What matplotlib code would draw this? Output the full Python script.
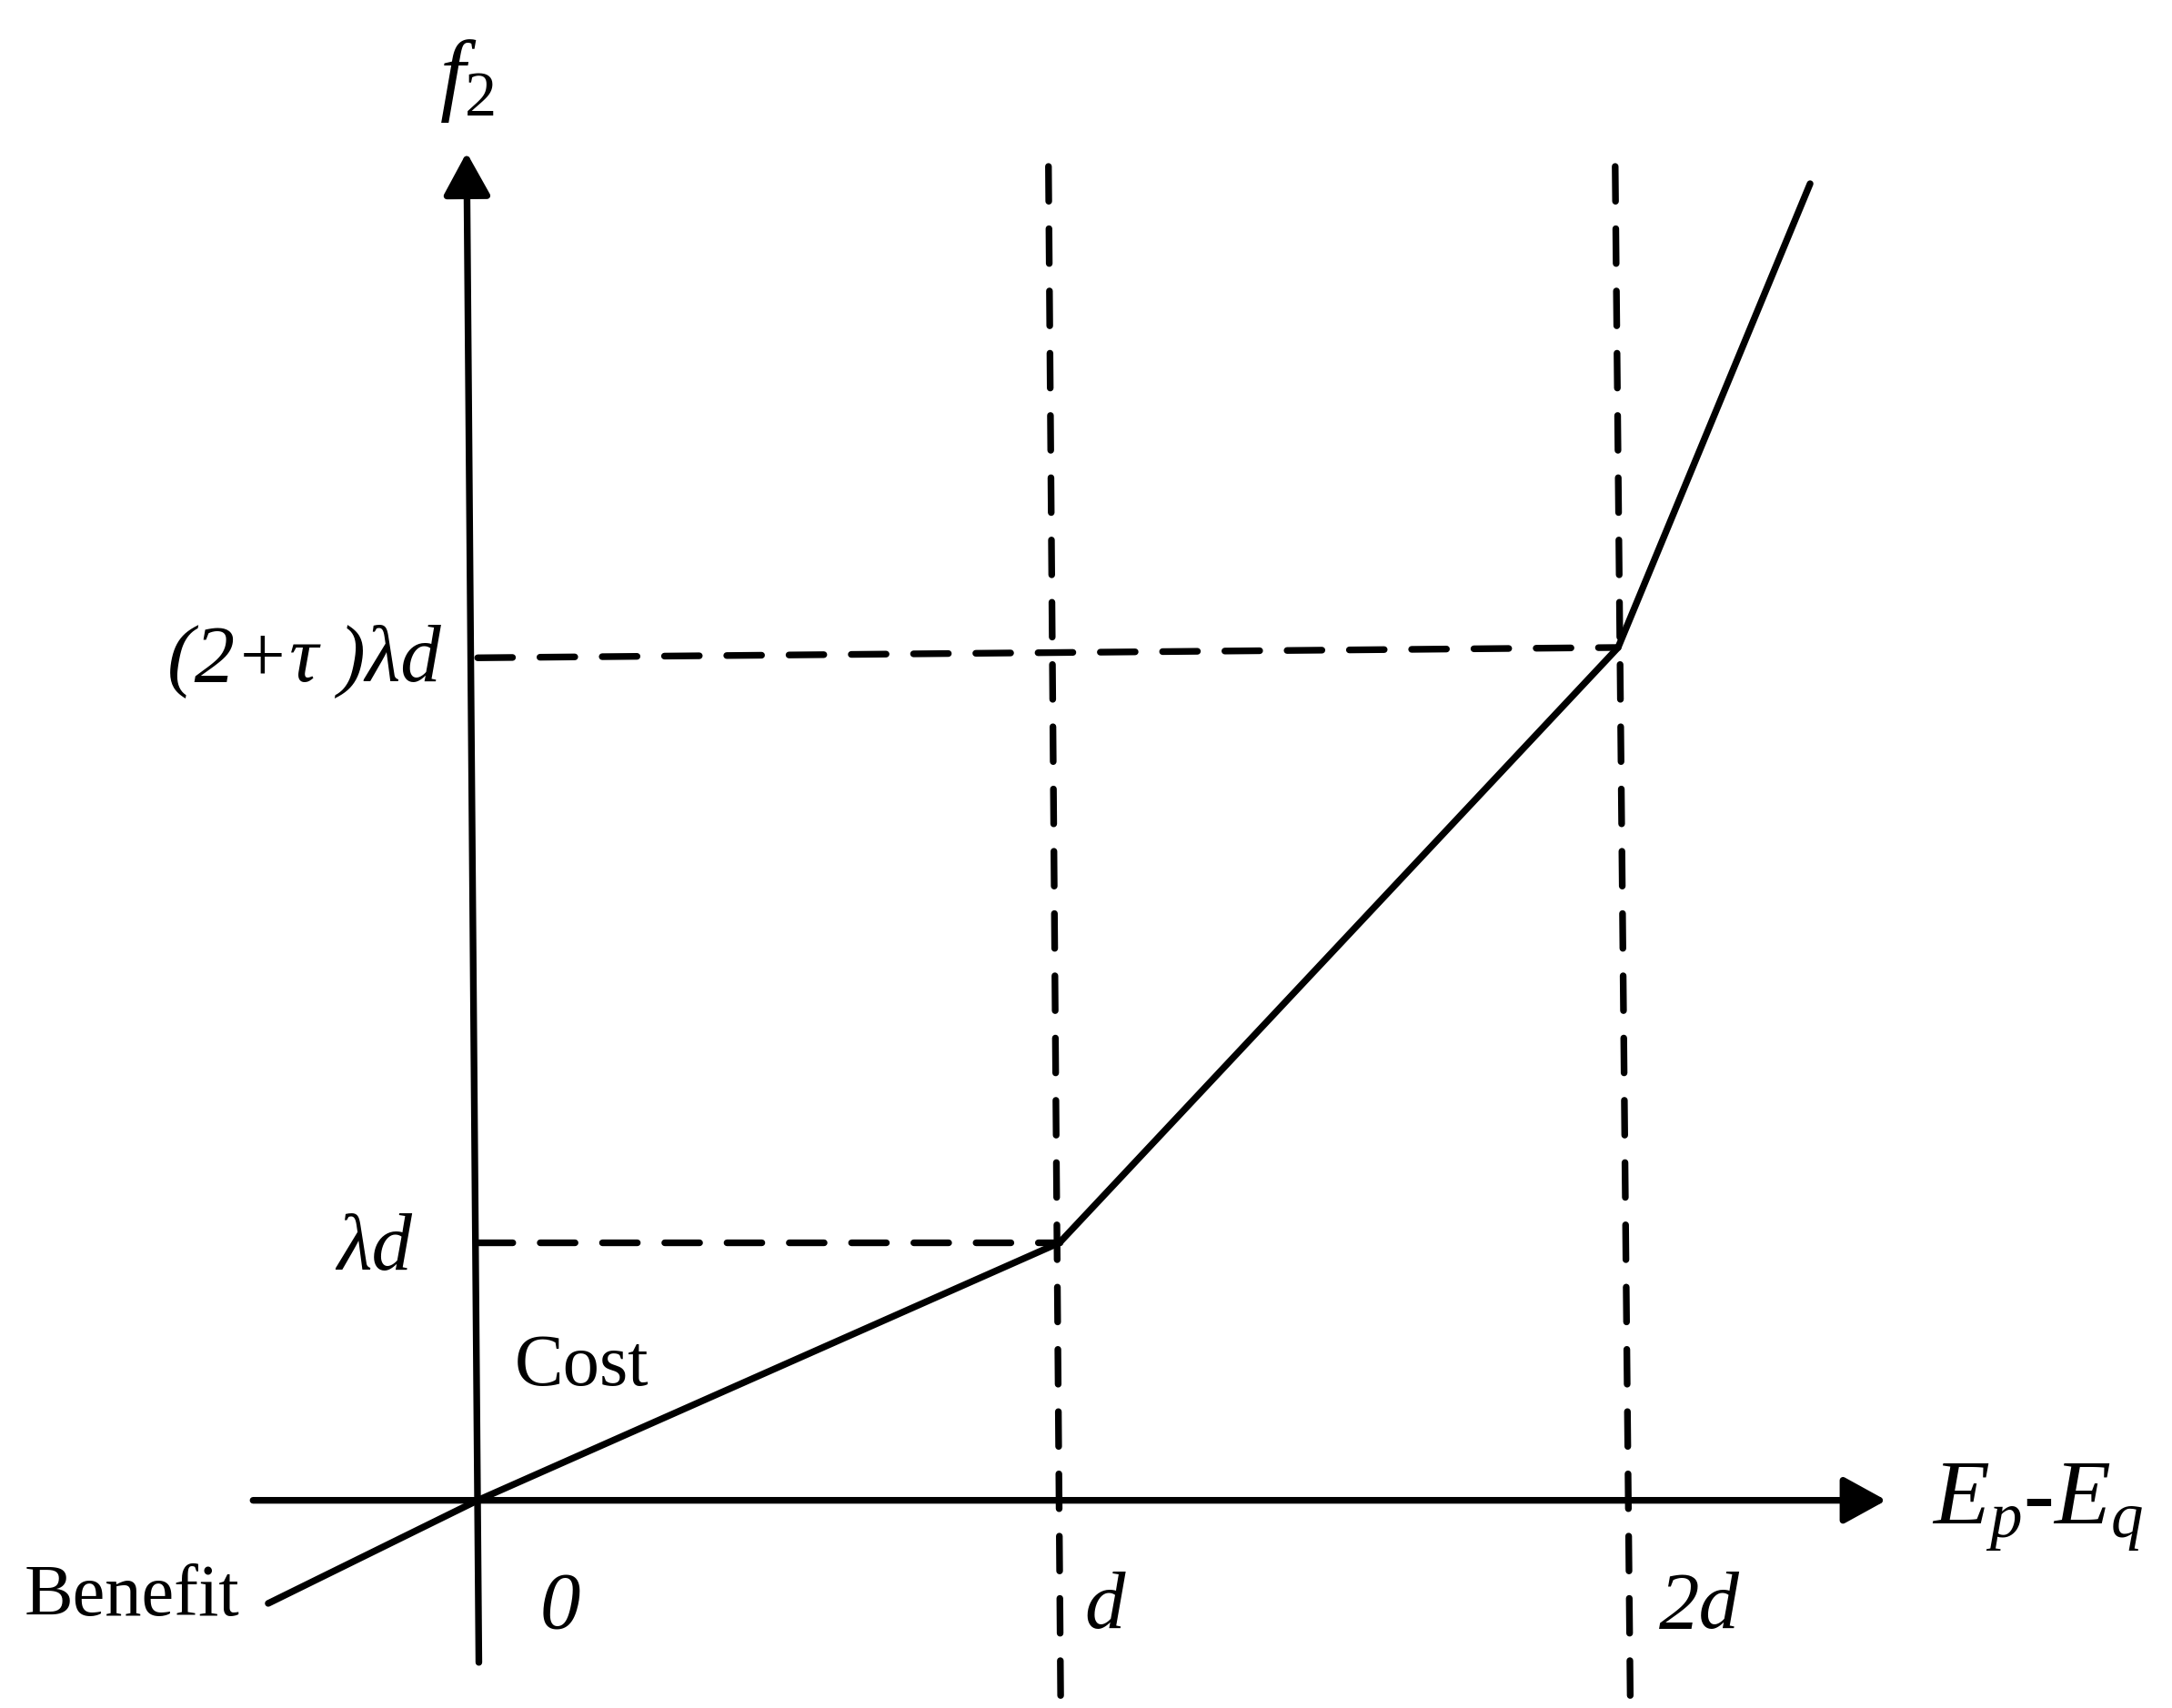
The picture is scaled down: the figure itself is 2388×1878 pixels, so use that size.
import matplotlib
matplotlib.use('Agg')
import matplotlib.pyplot as plt
from matplotlib.patches import ArrowStyle

# schematic piecewise cost curve, x in units of d, y in units of lambda*d
curve_x = [-0.36, 0.0, 1.0, 1.96, 2.29]
curve_y = [-0.40, 0.0, 1.0, 3.31, 5.11]

# the axes as drawn (slightly tilted in the original figure)
xaxis_x = [-0.386, 2.421]
xaxis_y = [0.0, 0.0]
yaxis_x = [0.002, -0.019]
yaxis_y = [-0.629, 5.231]

# vertical guides at d and 2d
vguide_d_x = [0.981, 1.002]
vguide_2d_x = [1.955, 1.981]
vguide_y = [5.177, -0.79]

# horizontal guides at lambda*d and (2+tau)*lambda*d
hguide1_x = [0.0, 1.0]
hguide1_y = [1.0, 1.0]
hguide2_x = [0.0, 1.96]
hguide2_y = [3.27, 3.31]

plt.rcParams['font.family'] = ['Liberation Serif', 'DejaVu Serif']
plt.rcParams['mathtext.fontset'] = 'custom'
plt.rcParams['mathtext.rm'] = 'Liberation Serif'
plt.rcParams['mathtext.it'] = 'Liberation Serif:italic'

fig = plt.figure(figsize=(23.88, 18.78), dpi=100)
ax = fig.add_axes([0, 0, 1, 1])
ax.set_xlim(-0.821, 2.912)
ax.set_ylim(-0.806, 5.823)
ax.axis('off')

lw = 5.3
dash = (0, (5.2, 4.1))

astyle = ArrowStyle('-|>', head_length=0.4, head_width=0.22)
for xs, ys in [(xaxis_x, xaxis_y), (yaxis_x, yaxis_y)]:
    ax.annotate('', xy=(xs[1], ys[1]), xytext=(xs[0], ys[0]),
                arrowprops=dict(arrowstyle=astyle, lw=lw, color='black',
                                mutation_scale=72, shrinkA=0, shrinkB=0))

for xs, ys in [(vguide_d_x, vguide_y), (vguide_2d_x, vguide_y),
               (hguide1_x, hguide1_y), (hguide2_x, hguide2_y)]:
    ax.plot(xs, ys, color='black', lw=lw, linestyle=dash,
            dash_capstyle='round')

ax.plot(curve_x, curve_y, color='black', lw=lw, solid_joinstyle='miter',
        solid_capstyle='round')

# labels
ax.text(-0.019, 5.51, r'$f_2$', fontsize=72, ha='center', va='center')
ax.text(-0.064, 3.26, '(2+τ )λd', fontsize=64, style='italic',
        ha='right', va='center')
ax.text(-0.112, 0.97, 'λd', fontsize=64, style='italic',
        ha='right', va='center')
ax.text(0.064, 0.446, 'Cost', fontsize=58, ha='left', va='baseline')
ax.text(-0.779, -0.446, 'Benefit', fontsize=58, ha='left', va='baseline')
ax.text(0.107, -0.495, '0', fontsize=64, style='italic', ha='left', va='baseline')
ax.text(1.043, -0.495, 'd', fontsize=64, style='italic', ha='left', va='baseline')
ax.text(2.031, -0.495, '2d', fontsize=64, style='italic', ha='left', va='baseline')
ax.text(2.5, -0.091, r'$E_p$-$E_q$', fontsize=73, style='italic',
        ha='left', va='baseline')

fig.savefig('out.png', dpi=100)
